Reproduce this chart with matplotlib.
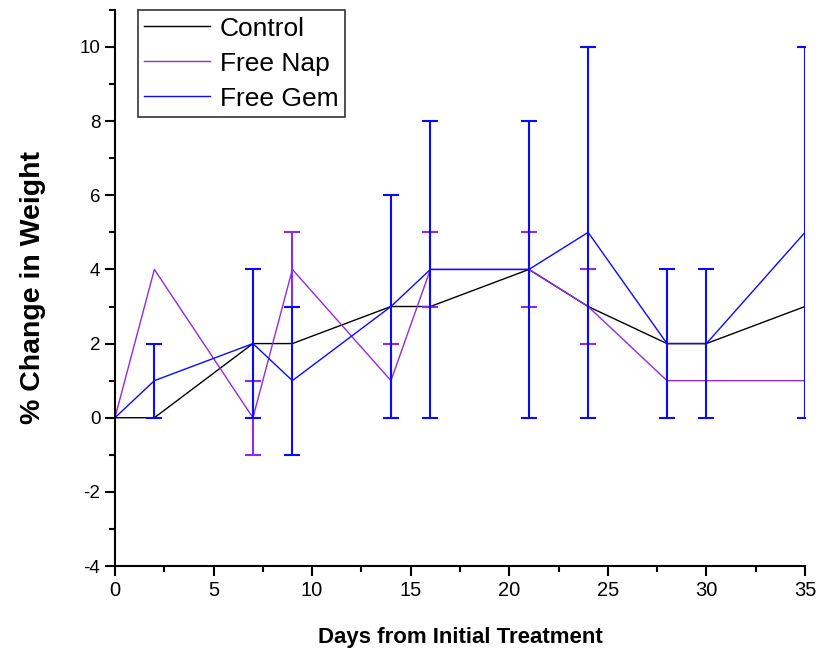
import matplotlib
matplotlib.use("Agg")
import matplotlib.pyplot as plt
from matplotlib.ticker import MultipleLocator
from matplotlib.lines import Line2D

plt.rcParams['font.family'] = ['Liberation Sans', 'DejaVu Sans']
plt.rcParams['axes.unicode_minus'] = False

days = [0, 2, 7, 9, 14, 16, 21, 24, 28, 30, 35]

control = [0, 0, 2, 2, 3, 3, 4, 3, 2, 2, 3]

nap = [0, 4, 0, 4, 1, 4, 4, 3, 1, 1, 1]
nap_err = [0, 0, 1, 1, 1, 1, 1, 1, 0, 0, 0]

gem = [0, 1, 2, 1, 3, 4, 4, 5, 2, 2, 5]
gem_err = [0, 1, 2, 2, 3, 4, 4, 5, 2, 2, 5]

nap_col = '#8f2be8'
gem_col = '#0a0aff'

fig = plt.figure(figsize=(8.21, 6.61), dpi=100)
ax = fig.add_axes([0.140, 0.1437, 0.8405, 0.8413])


def bars(x, y, err, col):
    # only the points that carry a spread get a bar
    pts = [(a, b, e) for a, b, e in zip(x, y, err) if e > 0]
    ax.errorbar([p[0] for p in pts], [p[1] for p in pts], yerr=[p[2] for p in pts],
                fmt='none', ecolor=col, elinewidth=1.5, capsize=6, capthick=1.5)


ax.plot(days, control, color='black', lw=1)
ax.plot(days, nap, color=nap_col, lw=1)
bars(days, nap, nap_err, nap_col)
ax.plot(days, gem, color=gem_col, lw=1)
bars(days, gem, gem_err, gem_col)

ax.set_xlim(0, 35)
ax.set_ylim(-4, 11)
ax.xaxis.set_major_locator(MultipleLocator(5))
ax.xaxis.set_minor_locator(MultipleLocator(2.5))
ax.yaxis.set_major_locator(MultipleLocator(2))
ax.yaxis.set_minor_locator(MultipleLocator(1))

for s in ['top', 'right']:
    ax.spines[s].set_visible(False)
for s in ['left', 'bottom']:
    ax.spines[s].set_linewidth(1.5)

ax.tick_params(which='major', direction='out', length=7, width=1.5, labelsize=13.5)
ax.tick_params(which='minor', direction='out', length=4, width=1.5)
ax.tick_params(axis='x', labelsize=14.5)

ax.set_xlabel('Days from Initial Treatment', fontsize=16, fontweight='bold', labelpad=20)
ax.set_ylabel('% Change in Weight', fontsize=20.5, fontweight='bold', labelpad=24)

handles = [Line2D([], [], color='black', lw=1),
           Line2D([], [], color=nap_col, lw=1),
           Line2D([], [], color=gem_col, lw=1)]
leg = ax.legend(handles, ['Control', 'Free Nap', 'Free Gem'], loc='upper left',
                bbox_to_anchor=(0.033, 1.0), fontsize=19, frameon=True,
                fancybox=False, edgecolor='black', handlelength=2.5,
                handletextpad=0.35, borderpad=0.25, labelspacing=0.42,
                borderaxespad=0.0)
leg.get_frame().set_linewidth(1.2)

fig.savefig('out.png', dpi=100)
